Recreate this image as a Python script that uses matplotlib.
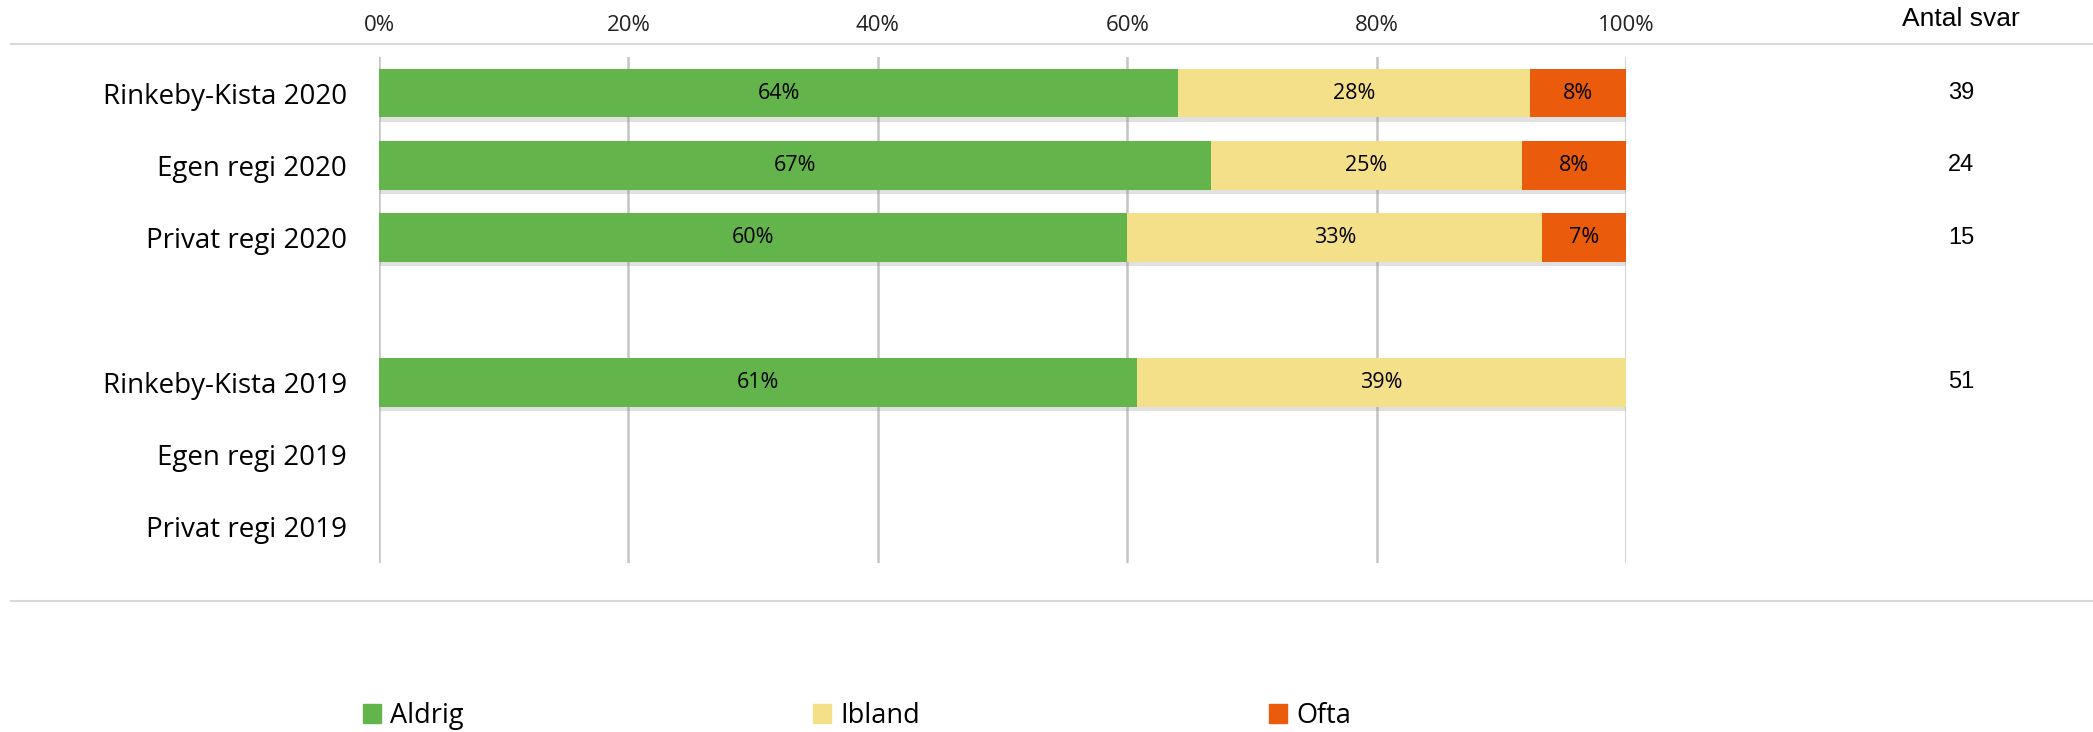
import numpy as np
import matplotlib
matplotlib.use('Agg')
import matplotlib.pyplot as plt
from matplotlib.patches import Patch
from matplotlib.lines import Line2D
from matplotlib import patheffects as pe
import matplotlib.transforms as mtransforms

plt.rcParams['font.family'] = ['Open Sans', 'DejaVu Sans']

# data
categories = ['Rinkeby-Kista 2020', 'Egen regi 2020', 'Privat regi 2020', '',
              'Rinkeby-Kista 2019', 'Egen regi 2019', 'Privat regi 2019']
aldrig = [64.1, 66.7, 60.0, 0, 60.8, 0, 0]
ibland = [28.2, 25.0, 33.3, 0, 39.2, 0, 0]
ofta = [7.7, 8.3, 6.7, 0, 0, 0, 0]
antal_svar = ['39', '24', '15', '', '51', '', '']
series_names = ['Aldrig', 'Ibland', 'Ofta']
colors = ['#64B44C', '#F5E08A', '#EA5B0C']

W, H = 2093, 732
fig = plt.figure(figsize=(W / 100, H / 100), dpi=100)
ax = fig.add_axes([379 / W, 1 - 563 / H, (1626 - 379) / W, (563 - 57) / H])

y = np.arange(len(categories))
shadow = [pe.SimplePatchShadow(offset=(1, -3), shadow_rgbFace='#8a8a8a', alpha=0.25), pe.Normal()]
left = np.zeros(len(categories))
for vals, name, col in zip([aldrig, ibland, ofta], series_names, colors):
    vals = np.array(vals)
    bars = ax.barh(y, vals, left=left, height=0.67, color=col, label=name, zorder=3)
    for b in bars:
        b.set_path_effects(shadow)
    labels = ['%d%%' % round(v) if v > 0 else '' for v in vals]
    ax.bar_label(bars, labels=labels, label_type='center', fontsize=15.5, color='black')
    left += vals

ax.set_xlim(0, 100)
ax.set_ylim(len(categories) - 0.5, -0.5)
ax.set_xticks(np.arange(0, 101, 20))
ax.set_xticklabels(['%d%%' % t for t in range(0, 101, 20)], fontsize=16, color='#222222')
ax.xaxis.tick_top()
ax.tick_params(axis='x', length=0, pad=15)
ax.set_yticks(y)
ax.set_yticklabels(categories, fontsize=20)
ax.tick_params(axis='y', length=0, pad=23)
ax.grid(axis='x', color='#C4C4C4', linewidth=1.8, zorder=0)
for s in ax.spines.values():
    s.set_visible(False)

# antal svar column
trans = mtransforms.blended_transform_factory(fig.transFigure, ax.transData)
for yi, n in zip(y, antal_svar):
    if n:
        ax.text(1961 / W, yi, n, transform=trans, ha='center', va='center',
                fontsize=17, family='Liberation Sans')
fig.text(1961 / W, 1 - 19 / H, 'Antal svar', ha='center', va='center',
         fontsize=19, family='Liberation Sans')

# separator lines
for yy in [44, 601]:
    fig.add_artist(Line2D([11 / W, 1], [1 - yy / H, 1 - yy / H], color='#D9D9D9',
                          linewidth=1.5, transform=fig.transFigure))

handles = [Patch(color=c, label=n) for c, n in zip(colors, series_names)]
fig.legend(handles=handles, loc='center left', bbox_to_anchor=(363 / W, 1 - 716 / H),
           ncol=3, frameon=False, fontsize=19.5, borderpad=0, borderaxespad=0,
           handlelength=0.67, handleheight=0.67, handletextpad=0.33, columnspacing=12.9)

fig.savefig('out.png', dpi=100)
